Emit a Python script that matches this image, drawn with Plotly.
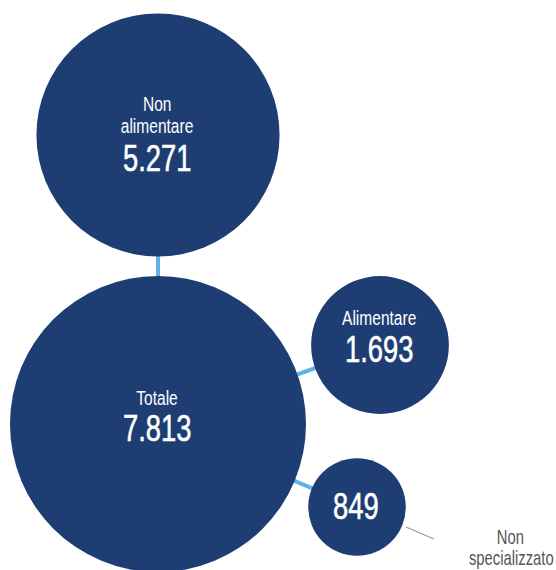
import plotly.graph_objects as go

# Data
categories = ['Totale', 'Non alimentare', 'Alimentare', 'Non specializzato']
values = [7813, 5271, 1693, 849]
value_labels = ['7.813', '5.271', '1.693', '849']

# Colors / font
colors = {
    'bubble': '#1e3d72',
    'link': '#62b0e6',
    'grey': '#9a9a9a',
    'label_out': '#555555',
}
FONT = 'Liberation Sans, Arial, sans-serif'
SMALL, BIG = 21, 37

W, H = 556, 570

# Layout of the bubbles (pixel positions of centres)
cx = [158, 158, 380, 357]
cy = [424, 135, 345, 507]

# largest bubble -> 296 px diameter, sizes by area
max_d = 296
sizeref = 2.0 * max(values) / max_d ** 2

fig = go.Figure()

# connectors from the total to each part
lx, ly = [], []
for i in (1, 2, 3):
    lx += [cx[0], cx[i], None]
    ly += [cy[0], cy[i], None]
fig.add_trace(go.Scatter(x=lx, y=ly, mode='lines',
                         line=dict(color=colors['link'], width=4),
                         hoverinfo='skip', showlegend=False))

# grey leader line for the outside label
fig.add_trace(go.Scatter(x=[406, 434], y=[527, 539], mode='lines',
                         line=dict(color=colors['grey'], width=1.3),
                         hoverinfo='skip', showlegend=False))

# bubbles
fig.add_trace(go.Scatter(
    x=cx, y=cy, mode='markers',
    marker=dict(size=values, sizemode='area', sizeref=sizeref,
                color=colors['bubble'], line=dict(width=0), opacity=1),
    text=categories,
    hovertemplate='%{text}: %{marker.size:,}<extra></extra>',
    showlegend=False,
))

# labels (text, y of the line, size)
label_lines = [
    [('Totale', 397, SMALL), (value_labels[0], 428, BIG)],
    [('Non', 103, SMALL), ('alimentare', 125.5, SMALL), (value_labels[1], 158.5, BIG)],
    [('Alimentare', 317, SMALL), (value_labels[2], 349, BIG)],
    [(value_labels[3], 506, BIG)],
]
for i, lines in enumerate(label_lines):
    for txt, y, size in lines:
        fig.add_annotation(x=cx[i] - 1, y=y, text=txt, showarrow=False,
                           xanchor='center', yanchor='middle',
                           font=dict(family=FONT, size=size, color='white'))

# outside label for the smallest bubble
fig.add_annotation(x=510, y=537, text='Non', showarrow=False,
                   xanchor='center', yanchor='middle',
                   font=dict(family=FONT, size=20, color=colors['label_out']))
fig.add_annotation(x=511, y=558, text='specializzato', showarrow=False,
                   xanchor='center', yanchor='middle',
                   font=dict(family=FONT, size=20, color=colors['label_out']))

fig.update_xaxes(range=[0, W], visible=False, fixedrange=True)
fig.update_yaxes(range=[H, 0], visible=False, fixedrange=True)
fig.update_layout(
    width=W, height=H,
    margin=dict(l=0, r=0, t=0, b=0),
    paper_bgcolor='white', plot_bgcolor='white',
    font_family=FONT,
)

# drop the page margin and narrow the texts (condensed look),
# the big numbers get a hair of stroke so the narrowed stems are not too thin
css = ("body{margin:0;overflow:hidden}"
       " .annotation-text{transform-box:fill-box;transform-origin:center;"
       "transform:scaleX(0.74)}"
       " .annotation-text[style*=\"font-size: 37px\"]{stroke:#fff;stroke-width:0.6px}")
post = ("var s=document.createElement('style');"
        "s.textContent='" + css + "';document.head.appendChild(s);")

fig.write_html("out.html", config={'displayModeBar': False}, post_script=post)
